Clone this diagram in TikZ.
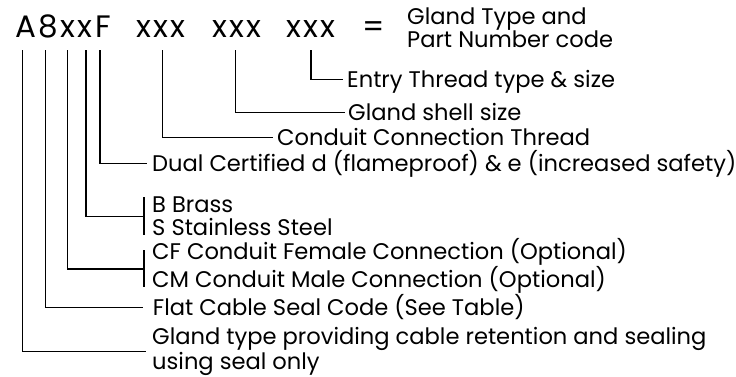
\documentclass[tikz,border=0pt]{standalone}
\usepackage{fontspec}
\setmainfont{Poppins}
\newfontfamily\codefont[LetterSpace=8]{Poppins}
\begin{document}
\begin{tikzpicture}[x=1pt,y=-1pt,
  codetxt/.style={anchor=base west, inner sep=0pt, font=\codefont\fontsize{31}{34}\selectfont},
  lbl/.style={anchor=base west, inner sep=0pt, align=left, font=\fontsize{22.6}{23}\selectfont},
  conn/.style={line width=1.3pt, line cap=butt}]
\useasboundingbox (0,0) rectangle (736,376);
% title
\node[codetxt] (cA8) at (15,37) {A8xxF};
\node[codetxt] (cG1) at (136,37) {xxx};
\node[codetxt] (cG2) at (212,37) {xxx};
\node[codetxt] (cG3) at (286,37) {xxx};
\node[codetxt] (cEq) at (362,37) {=};
\node[lbl] (lType) at (407,47) {Gland Type and\\Part Number code};
% labels
\node[lbl] (lEntry) at (347,87) {Entry Thread type \& size};
\node[lbl] (lShell) at (348,120.3) {Gland shell size};
\node[lbl] (lConduit) at (277,145) {Conduit Connection Thread};
\node[lbl] (lDual) at (152,171) {Dual Certified d (flameproof) \& e (increased safety)};
\node[lbl] (lMat) at (152,235) {B Brass\\S Stainless Steel};
\node[lbl] (lConn) at (152,287) {CF Conduit Female Connection (Optional)\\CM Conduit Male Connection (Optional)};
\node[lbl] (lFlat) at (152.7,315) {Flat Cable Seal Code (See Table)};
\node[lbl] (lGland) at (152,369) {Gland type providing cable retention and sealing\\using seal only};
% connector start points
\coordinate (sA) at (22.7,50);
\coordinate (s8) at (45.7,50);
\coordinate (sX1) at (67.3,50);
\coordinate (sX2) at (86,50);
\coordinate (sF) at (100,50);
\coordinate (sG1) at (162.3,50);
\coordinate (sG2) at (235.7,50);
\coordinate (sG3) at (311,50);
% connector end points
\coordinate (eEntry) at (343,79.3);
\coordinate (eShell) at (345,112.7);
\coordinate (eConduit) at (273,137.3);
\coordinate (eDual) at (147,163.3);
\coordinate (eMat) at (144,216.7);
\coordinate (eConn) at (144,269);
\coordinate (eFlat) at (143,307.3);
\coordinate (eGland) at (145.7,351.7);
\coordinate (bMatT) at (144,197);
\coordinate (bMatB) at (144,235);
\coordinate (bConnT) at (144,250);
\coordinate (bConnB) at (144,287);
% connectors
\draw[conn] (sG3) |- (eEntry);
\draw[conn] (sG2) |- (eShell);
\draw[conn] (sG1) |- (eConduit);
\draw[conn] (sF) |- (eDual);
\draw[conn] (sX2) |- (eMat);
\draw[conn] (bMatT) -- (bMatB);
\draw[conn] (sX1) |- (eConn);
\draw[conn] (bConnT) -- (bConnB);
\draw[conn] (s8) |- (eFlat);
\draw[conn] (sA) |- (eGland);
\end{tikzpicture}
\end{document}
